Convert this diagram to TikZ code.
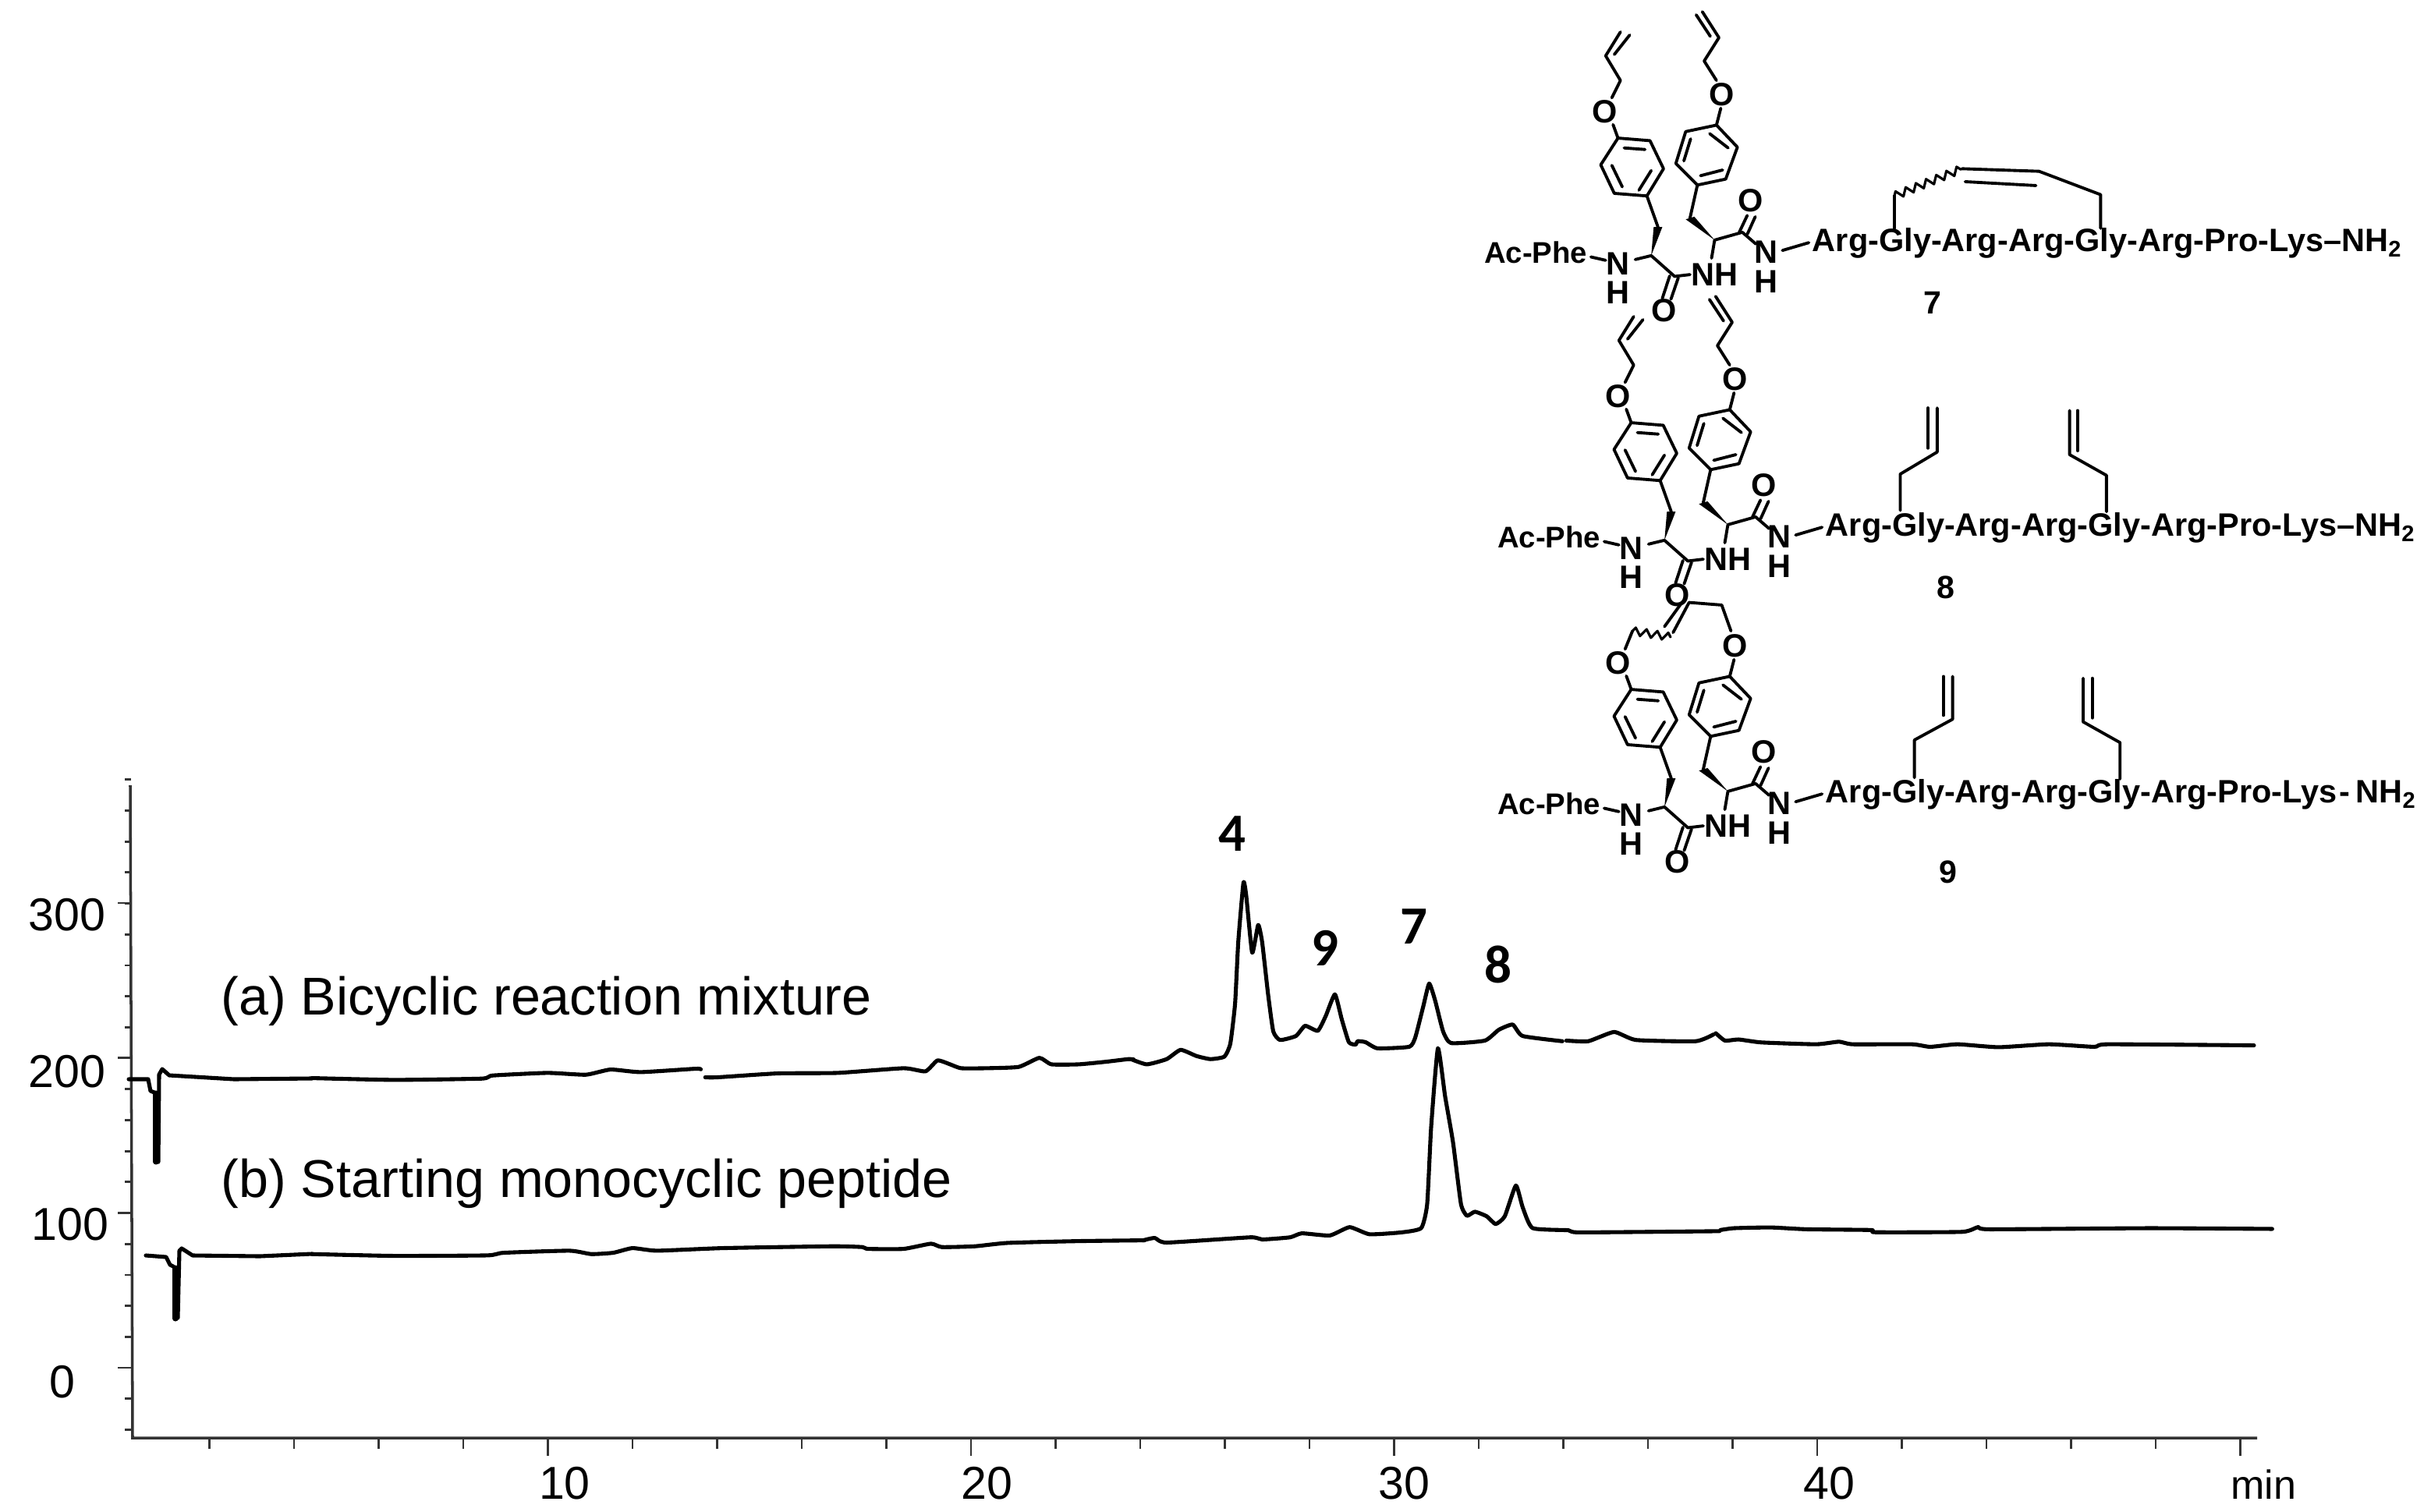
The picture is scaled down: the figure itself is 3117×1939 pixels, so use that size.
\documentclass[tikz,border=0pt]{standalone}
\usepackage{fontspec}
\setmainfont{Liberation Sans}
\newfontfamily\peakfont{Carlito}
\usetikzlibrary{decorations.pathmorphing}
\newcommand{\chemfont}{\fontsize{11.8}{14}\selectfont\bfseries}
\tikzset{
  bond/.style={line width=1.1pt, line cap=round, line join=round},
  wave/.style={bond, line width=0.9pt, decorate, decoration={zigzag, segment length=4pt, amplitude=1.4pt}},
  atom/.style={font=\chemfont, inner sep=0pt},
  chain/.style={atom, anchor=base west},
  endcap/.style={inner sep=0pt, anchor=base west, font=\fontsize{10.9}{14}\selectfont\bfseries},
  cmpd/.style={inner sep=0pt, font=\fontsize{11.7}{14}\selectfont\bfseries},
  peak/.style={inner sep=0pt, font=\fontsize{19.6}{22}\peakfont\bfseries},
  scale label/.style={inner sep=0pt, font=\fontsize{16.8}{20}\selectfont},
  trace label/.style={inner sep=0pt, anchor=base west, font=\fontsize{19.4}{23}\selectfont},
  trace/.style={line width=1.45pt, line cap=round, line join=round},
  axis line/.style={line width=0.8pt, black!80},
  zoomA/.style={shift={(400,1300)}, x=0.007015cm, y=-0.003333cm},
  zoomB/.style={shift={(1450,1030)}, x=0.0051cm, y=-0.00395cm},
  zoomC/.style={shift={(2200,1200)}, x=0.00585cm, y=-0.00472cm},
  zoomD/.style={shift={(400,1540)}, x=0.007015cm, y=-0.003333cm},
  molunit/.style={x=0.00789cm, y=-0.003333cm}
}
% dipeptide part shared by the three structures
\newcommand{\pepcore}[2]{
  \draw[bond] (268,487) -- (320,497) -- (342,605) -- (315,710) -- (262,700) -- (240,590) -- cycle;
  \draw[bond] (278,525) -- (312,531);
  \draw[bond] (322,612) -- (302,688);
  \draw[bond] (258,592) -- (275,675);
  \draw[bond] (428,437) -- (378,462) -- (362,585) -- (397,668) -- (443,645) -- (462,522) -- cycle;
  \draw[bond] (417,470) -- (447,525);
  \draw[bond] (375,575) -- (386,490);
  \draw[bond] (402,632) -- (438,610);
  \draw[bond] (268,487) -- (260,435);
  \draw[bond] (428,437) -- (435,372);
  \node[atom] (#1oa) at (246,385) {O};
  \node[atom] (#1ob) at (437,318) {O};
  % left residue
  \draw[bond] (315,710) -- (333,830);
  \fill (322,940) -- (326,830) -- (340,830) -- cycle;
  \draw[bond] (296,955) -- (322,940) -- (360,1020) -- (385,1013);
  \draw[bond] (352,1018) -- (340,1105);
  \draw[bond] (366,1025) -- (354,1108);
  \draw[bond] (224,945) -- (248,958);
  \node[atom] (#1na) at (268,972) {N};
  \node[atom] (#1ha) at (268,1082) {H};
  \node[atom] (#1oc) at (343,1150) {O};
  \node[atom] (#1nb) at (425,1012) {NH};
  \node[endcap] (#1ac) at (50,968) {Ac-Phe};
  % right residue
  \draw[bond] (397,668) -- (385,795);
  \fill (425,880) -- (378,800) -- (392,790) -- cycle;
  \draw[bond] (420,950) -- (425,880) -- (470,850) -- (492,895);
  \draw[bond] (465,850) -- (478,785);
  \draw[bond] (478,858) -- (491,790);
  \draw[bond] (535,920) -- (578,890);
  \node[atom] (#1od) at (484,727) {O};
  \node[atom] (#1nc) at (508,927) {N};
  \node[atom] (#1hb) at (508,1040) {H};
  \node[chain] (#1pep) at (583,925) {#2};
}
% the two O-allyl arms
\newcommand{\allyltop}{
  \draw[bond] (258,332) -- (272,265) -- (248,170) -- (272,78);
  \draw[bond] (262,165) -- (287,90);
  \draw[bond] (428,265) -- (408,190) -- (432,100) -- (405,0);
  \draw[bond] (418,95) -- (395,12);
}
\begin{document}
\begin{tikzpicture}[x=0.01cm, y=-0.01cm]
  \useasboundingbox (0,0) rectangle (3117,1939);
  % structure 7
  \begin{scope}[shift={(1863,15)}, molunit]
    \pepcore{g}{Arg-Gly-Arg-Arg-Gly-Arg-Pro-Lys--NH\textsubscript{2}}
    \allyltop
    \draw[bond] (717,835) -- (717,710);
    \draw[wave] (717,710) -- (827,605);
    \draw[bond] (827,605) -- (952,615) -- (1052,705) -- (1052,835);
    \draw[bond] (832,655) -- (947,670);
  \end{scope}
  \node[cmpd] (seven) at (2478,388) {7};
  % structure 8
  \begin{scope}[shift={(1880,380)}, molunit]
    \pepcore{e}{Arg-Gly-Arg-Arg-Gly-Arg-Pro-Lys--NH\textsubscript{2}}
    \allyltop
    \draw[bond] (705,825) -- (705,685) -- (765,600) -- (765,430);
    \draw[bond] (750,585) -- (750,430);
    \draw[bond] (1040,830) -- (1040,690) -- (980,610) -- (980,440);
    \draw[bond] (993,595) -- (993,440);
  \end{scope}
  \node[cmpd] (eight) at (2495,753) {8};
  % structure 9
  \begin{scope}[shift={(1880,722)}, molunit]
    \pepcore{n}{Arg-Gly-Arg-Arg-Gly-Arg-Pro-Lys\kern1pt-\kern2pt NH\textsubscript{2}}
    \draw[bond] (258,332) -- (270,262);
    \draw[wave] (270,262) -- (332,285);
    \draw[bond] (336,268) -- (362,152) -- (415,162) -- (430,262);
    \draw[bond] (322,245) -- (348,160);
    \draw[bond] (728,827) -- (728,682) -- (790,602) -- (790,437);
    \draw[bond] (775,587) -- (775,437);
    \draw[bond] (1062,832) -- (1062,692) -- (1002,612) -- (1002,444);
    \draw[bond] (1017,597) -- (1017,444);
  \end{scope}
  \node[cmpd] (nine) at (2498,1118) {9};
  % axes
  \draw[axis line, line width=1pt] (167,1007) -- (170,1844) -- (2894,1844);
  \foreach \k in {-2,...,19}
    \draw[axis line] (160,1754-39.7*\k) -- (168,1754-39.7*\k);
  \foreach \k in {0,...,3}
    \draw[axis line] (151,1754-198.7*\k) -- (168,1754-198.7*\k);
  \foreach \k in {1,...,25}
    \draw[axis line] (160+108.5*\k,1844) -- (160+108.5*\k,1858);
  \foreach \k in {1,...,5}
    \draw[axis line] (160+542.5*\k,1844) -- (160+542.5*\k,1867);
  \node[scale label] (y300) at (86,1173) {300};
  \node[scale label] (y200) at (86,1374) {200};
  \node[scale label] (y100) at (90,1570) {100};
  \node[scale label] (y0) at (80,1772) {0};
  \node[scale label] (x10) at (724,1902) {10};
  \node[scale label] (x20) at (1265,1902) {20};
  \node[scale label] (x30) at (1800,1902) {30};
  \node[scale label] (x40) at (2345,1902) {40};
  \node[inner sep=0pt, anchor=base, font=\fontsize{14.8}{18}\selectfont] (xmin) at (2902,1922) {min};
  % trace a
  \draw[trace] (165,1384) -- (190,1384) -- (193,1399) -- (198,1401);
  \draw[trace, line width=2pt] (200,1402) -- (200,1490);
  \draw[trace] (203,1490) -- (204,1378) -- (208,1371) -- (217,1379) -- (300,1384) -- (400,1383);
  \begin{scope}[zoomA]
    \draw[trace] plot[smooth, tension=0.3] coordinates {(0,248) (150,255) (310,250) (330,238) (430,228) (500,235) (545,215) (600,225) (700,212) (710,214)};
    \draw[trace] plot[smooth, tension=0.3] coordinates {(718,245) (740,245) (850,230) (960,228) (1080,210) (1120,222) (1142,180) (1165,195) (1185,210) (1230,210) (1290,205) (1328,170) (1350,195) (1400,195) (1450,185) (1490,175) (1500,176)};
  \end{scope}
  \begin{scope}[zoomB]
    \draw[trace] plot[smooth, tension=0.3] coordinates {(0,830) (40,847) (90,830) (125,800) (165,820) (200,830) (235,822) (250,780) (262,650) (270,450) (283,258) (290,300) (305,485) (320,395) (330,450) (345,620) (358,740) (375,768) (415,755) (438,722) (470,738) (490,690) (513,620) (530,700) (548,775) (565,783) (570,772) (590,775) (620,795) (700,790) (715,760) (735,660) (750,585) (765,640) (785,740) (805,778) (890,770) (925,735) (960,718) (985,755) (1085,772)};
    \draw[trace] plot[smooth, tension=0.3] coordinates {(1095,770) (1150,772) (1215,742) (1270,768) (1420,772) (1465,750)};
  \end{scope}
  \begin{scope}[zoomC]
    \draw[trace] plot[smooth, tension=0.3] coordinates {(0,265) (20,285) (50,282) (100,290) (220,295) (270,288) (300,295) (430,295) (470,302) (530,295) (620,303) (730,295) (830,302) (860,295) (1180,298)};
  \end{scope}
  % trace b
  \draw[trace] (187,1610) -- (213,1612) -- (218,1622) -- (222,1624);
  \draw[trace, line width=2pt] (225,1626) -- (225,1691);
  \draw[trace] (228,1690) -- (230,1604) -- (233,1601) -- (247,1610) -- (333,1611) -- (400,1608);
  \begin{scope}[zoomD]
    \draw[trace] plot[smooth, tension=0.3] coordinates {(0,205) (150,212) (320,210) (350,200) (470,192) (510,205) (550,200) (585,182) (630,192) (750,182) (950,175) (1005,178) (1015,185) (1080,185) (1130,165) (1150,178) (1210,175) (1270,162) (1400,155) (1520,152)};
  \end{scope}
  \begin{scope}[zoomB]
    \draw[trace] plot[smooth, tension=0.3] coordinates {(30,1418) (60,1410) (90,1425) (300,1408) (330,1415) (400,1408) (430,1395) (500,1402) (550,1375) (600,1398) (680,1392) (730,1378) (745,1300) (755,1050) (772,795) (790,950) (810,1100) (830,1300) (845,1338) (865,1325) (895,1340) (917,1365) (940,1340) (968,1240) (985,1310) (1010,1378) (1100,1385) (1130,1392) (1480,1388)};
  \end{scope}
  \begin{scope}[zoomC]
    \draw[trace] plot[smooth, tension=0.3] coordinates {(10,800) (40,795) (120,793) (200,798) (340,800) (350,806) (540,805) (575,792) (600,798) (950,795) (1220,797)};
  \end{scope}
  % labels
  \node[trace label] (mixture) at (283,1301) {(a) Bicyclic reaction mixture};
  \node[trace label] (starting) at (283,1535) {(b) Starting monocyclic peptide};
  \node[peak] (peak4) at (1580,1069) {4};
  \node[peak] (peak9) at (1699,1216) {9};
  \node[peak] (peak7) at (1813,1188) {7};
  \node[peak] (peak8) at (1921,1237) {8};
\end{tikzpicture}
\end{document}
